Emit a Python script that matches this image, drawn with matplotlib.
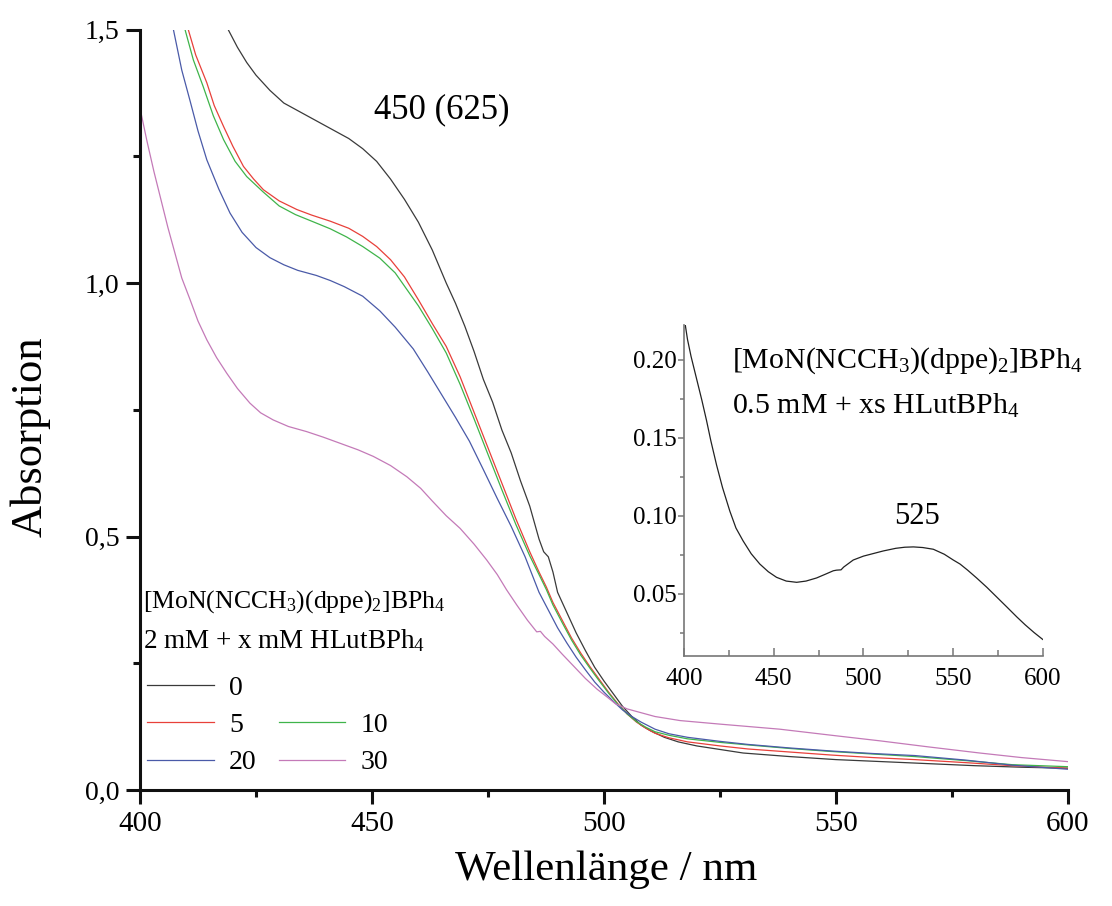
import matplotlib
matplotlib.use("Agg")
import matplotlib.pyplot as plt
from matplotlib.lines import Line2D
from matplotlib.ticker import MultipleLocator, FixedLocator, FixedFormatter

plt.rcParams['font.family'] = ['Liberation Serif', 'DejaVu Serif']
plt.rcParams['mathtext.fontset'] = 'custom'
plt.rcParams['mathtext.rm'] = 'Liberation Serif'
plt.rcParams['mathtext.it'] = 'Liberation Serif:italic'
plt.rcParams['mathtext.bf'] = 'Liberation Serif:bold'

# ---------------- data ----------------
wl_0 = [416, 419, 421, 423, 425, 428, 431, 435, 441, 445, 448, 451, 454, 457, 460, 463,
        466, 468, 470, 472, 474, 476, 478, 480, 482, 484, 486, 487, 488, 489, 490, 492,
        494, 496, 498, 500, 502, 504, 506, 508, 510, 513, 516, 520, 525, 530, 540, 550,
        560, 570, 580, 590, 600]
abs_0 = [1.60, 1.50, 1.465, 1.435, 1.41, 1.38, 1.355, 1.335, 1.305, 1.285, 1.265, 1.24,
         1.205, 1.165, 1.12, 1.065, 1.0, 0.96, 0.915, 0.865, 0.81, 0.765, 0.71, 0.665,
         0.61, 0.56, 0.495, 0.47, 0.46, 0.43, 0.39, 0.35, 0.31, 0.275, 0.242, 0.215, 0.19,
         0.165, 0.145, 0.128, 0.117, 0.104, 0.095, 0.087, 0.080, 0.073, 0.066, 0.060,
         0.056, 0.052, 0.048, 0.045, 0.043]

wl_5 = [407, 410.4, 412, 414.4, 416, 418, 420, 422.3, 424.5, 426.6, 430, 433.8, 437, 441,
        445, 448, 451, 454, 457, 460, 463, 466, 469, 472, 475, 478, 481, 484, 486, 487.6,
        489, 491, 493, 495, 497, 499, 501, 503, 505, 507, 509, 511, 514, 518, 525, 531,
        540, 549, 558, 567, 578, 588, 600]
abs_5 = [1.65, 1.50, 1.45, 1.395, 1.35, 1.309, 1.27, 1.23, 1.205, 1.184, 1.162, 1.145,
         1.134, 1.122, 1.108, 1.092, 1.072, 1.046, 1.012, 0.967, 0.92, 0.875, 0.815, 0.745,
         0.675, 0.605, 0.535, 0.47, 0.43, 0.40, 0.37, 0.335, 0.30, 0.27, 0.243, 0.218,
         0.193, 0.17, 0.15, 0.134, 0.122, 0.112, 0.103, 0.095, 0.087, 0.081, 0.075, 0.069,
         0.064, 0.060, 0.054, 0.048, 0.043]

wl_10 = [406, 409.7, 411.5, 413.6, 415.8, 418, 420.5, 423, 426.5, 430, 433.5, 437, 441,
         444.5, 448, 451.7, 455, 460, 463, 466, 469, 472, 475, 478, 481, 484, 486, 487.6,
         489, 491, 493, 495, 497, 499, 501, 503, 505, 507, 509, 511, 514, 518, 525, 531,
         540, 549, 558, 567, 578, 588, 600]
abs_10 = [1.65, 1.50, 1.44, 1.388, 1.33, 1.283, 1.24, 1.21, 1.18, 1.152, 1.135, 1.122,
          1.107, 1.091, 1.072, 1.049, 1.02, 0.955, 0.91, 0.862, 0.80, 0.732, 0.662, 0.592,
          0.524, 0.462, 0.425, 0.395, 0.365, 0.33, 0.296, 0.266, 0.24, 0.215, 0.191, 0.169,
          0.15, 0.135, 0.124, 0.115, 0.108, 0.101, 0.094, 0.089, 0.082, 0.076, 0.071,
          0.066, 0.058, 0.050, 0.046]

wl_20 = [404, 407.2, 409, 410.8, 412.5, 414.4, 417, 419.4, 422, 425, 428, 431, 434, 438,
         441, 444, 448, 451.7, 455, 458.9, 462, 465, 468, 471, 474, 477, 480, 483, 486,
         488, 490, 492, 494, 496, 498, 500, 502, 504, 506, 508, 511, 514, 518, 525, 531,
         540, 549, 558, 567, 578, 588, 600]
abs_20 = [1.70, 1.50, 1.42, 1.359, 1.30, 1.243, 1.185, 1.138, 1.10, 1.07, 1.05, 1.036,
          1.025, 1.015, 1.005, 0.993, 0.974, 0.945, 0.913, 0.87, 0.825, 0.78, 0.735,
          0.688, 0.632, 0.575, 0.52, 0.46, 0.39, 0.355, 0.32, 0.29, 0.262, 0.237, 0.213,
          0.193, 0.175, 0.158, 0.145, 0.134, 0.12, 0.111, 0.104, 0.096, 0.090, 0.083,
          0.077, 0.072, 0.068, 0.059, 0.049, 0.041]

wl_30 = [400, 401.5, 403, 404.5, 406, 407.5, 409, 410.8, 412.5, 414.4, 416.5, 418.7, 421,
         423.7, 426, 428.7, 432, 435.9, 439.5, 443.1, 447, 450.3, 454, 457.5, 460.5, 463,
         466, 469, 472, 474.7, 477, 479, 481.2, 483.5, 485.5, 486.3, 487.2, 489, 491,
         493.4, 496, 498.5, 500.6, 502.5, 505, 507.8, 511, 516.4, 525, 537.9, 550, 559.5,
         570, 581, 590, 600]
abs_30 = [1.345, 1.28, 1.22, 1.165, 1.11, 1.06, 1.01, 0.967, 0.925, 0.888, 0.853, 0.822,
          0.792, 0.763, 0.744, 0.73, 0.717, 0.707, 0.696, 0.684, 0.671, 0.658, 0.64,
          0.618, 0.595, 0.57, 0.541, 0.516, 0.485, 0.454, 0.425, 0.395, 0.365, 0.335,
          0.312, 0.313, 0.303, 0.288, 0.268, 0.245, 0.22, 0.199, 0.184, 0.170, 0.160, 0.153,
          0.145, 0.137, 0.13, 0.12, 0.107, 0.097, 0.085, 0.073, 0.064, 0.056]

series_labels = ['0', '5', '10', '20', '30']
series_colors = ['#3a3a3a', '#e8403a', '#3fb44a', '#4a5aa8', '#c47ab8']

inset_wl = [400.8, 402, 404, 407, 410, 412.6, 415, 418.2, 421.5, 425.6, 429, 433, 437.5,
            442.3, 447, 451.6, 457, 462.8, 468, 473.9, 479, 483.2, 485, 487.5, 489, 494.3,
            500, 505, 511, 518, 523, 527.8, 533, 538.9, 545, 550, 553.8, 558, 563, 568.7,
            574, 580, 585.4, 590, 595, 599.8]
inset_abs = [0.222, 0.213, 0.202, 0.188, 0.174, 0.161, 0.148, 0.1324, 0.118, 0.1028,
             0.092, 0.0837, 0.0755, 0.0689, 0.064, 0.0604, 0.058, 0.0572, 0.058, 0.0600,
             0.0625, 0.0646, 0.065, 0.0652, 0.067, 0.0715, 0.074, 0.0755, 0.0773, 0.079,
             0.0797, 0.0799, 0.0795, 0.0784, 0.0752, 0.0715, 0.0689, 0.065, 0.060, 0.0540,
             0.048, 0.0412, 0.0350, 0.030, 0.025, 0.0206]

x_ticks = [400, 450, 500, 550, 600]
y_ticks = [0.0, 0.5, 1.0, 1.5]
y_tick_labels = ['0,0', '0,5', '1,0', '1,5']
inset_y_ticks = [0.05, 0.10, 0.15, 0.20]
inset_y_tick_labels = ['0.05', '0.10', '0.15', '0.20']

# ---------------- figure ----------------
fig = plt.figure(figsize=(11.12, 9.06), dpi=100)
ax = fig.add_axes([0.1259, 0.128, 0.8345, 0.8394])

all_wl = [wl_0, wl_5, wl_10, wl_20, wl_30]
all_abs = [abs_0, abs_5, abs_10, abs_20, abs_30]
handles = []
for wl, a, lab, col in zip(all_wl, all_abs, series_labels, series_colors):
    h, = ax.plot(wl, a, color=col, lw=0.9, label=lab)
    handles.append(h)

ax.set_xlim(400, 600)
ax.set_ylim(0, 1.5)
for s in ['top', 'right']:
    ax.spines[s].set_visible(False)
for s in ['left', 'bottom']:
    ax.spines[s].set_linewidth(2.2)
    ax.spines[s].set_color('#111111')

ax.xaxis.set_major_locator(FixedLocator(x_ticks))
ax.xaxis.set_minor_locator(MultipleLocator(25))
ax.yaxis.set_major_locator(FixedLocator(y_ticks))
ax.yaxis.set_major_formatter(FixedFormatter(y_tick_labels))
ax.yaxis.set_minor_locator(MultipleLocator(0.25))
ax.tick_params(which='major', direction='out', length=10, width=2.2, labelsize=21,
               color='#111111', pad=5)
ax.tick_params(which='minor', direction='out', length=5, width=2.2, color='#111111')
ax.tick_params(axis='y', which='major', labelsize=20)

ax.set_xlabel('Wellenlänge / nm', fontsize=31)
ax.xaxis.set_label_coords(0.502, -0.080)
ax.set_ylabel('Absorption', fontsize=32)
ax.yaxis.set_label_coords(-0.096, 0.464)

ax.text(465.1, 1.342, '450 (625)', fontsize=25, ha='center', va='center')

ax.text(400.65, 0.359, r'[MoN(NCCH$_3$)(dppe)$_2$]BPh$_4$', fontsize=18.5, ha='left',
        va='baseline')
ax.text(400.65, 0.280, r'2 mM + x mM HLutBPh$_4$', fontsize=19.5, ha='left', va='baseline')

blank = Line2D([], [], color='none')
leg_handles = [handles[0], handles[1], handles[3], blank, handles[2], handles[4]]
leg_labels = ['0', '5', '20', '', '10', '30']
ax.legend(leg_handles, leg_labels, ncol=2, loc='upper left', bbox_to_anchor=(0.0075, 0.151),
          frameon=False, fontsize=20, borderpad=0, borderaxespad=0, handlelength=2.4,
          handletextpad=0.55, columnspacing=0.8, labelspacing=0.43)

# ---------------- inset ----------------
ins = fig.add_axes([0.615, 0.276, 0.323, 0.365])
ins.plot(inset_wl, inset_abs, color='#222222', lw=0.9)
ins.set_xlim(400, 600)
ins.set_ylim(0.01, 0.222)
for s in ['top', 'right']:
    ins.spines[s].set_visible(False)
for s in ['left', 'bottom']:
    ins.spines[s].set_linewidth(1.2)
    ins.spines[s].set_color('#777777')
ins.xaxis.set_major_locator(FixedLocator(x_ticks))
ins.xaxis.set_minor_locator(MultipleLocator(25))
ins.yaxis.set_major_locator(FixedLocator(inset_y_ticks))
ins.yaxis.set_major_formatter(FixedFormatter(inset_y_tick_labels))
ins.yaxis.set_minor_locator(MultipleLocator(0.025))
ins.tick_params(axis='x', which='major', direction='in', length=6, width=1.1,
                color='#777777', labelsize=18, pad=9)
ins.tick_params(axis='x', which='minor', direction='in', length=4, width=1.1, color='#777777')
ins.tick_params(axis='y', which='major', direction='out', length=4, width=1.1,
                color='#777777', labelsize=18, pad=1)
ins.tick_params(axis='y', which='minor', direction='out', length=3, width=1.1, color='#777777')

ins.text(426.7, 0.1951, r'[MoN(NCCH$_3$)(dppe)$_2$]BPh$_4$', fontsize=21.5, ha='left',
         va='baseline')
ins.text(426.7, 0.1652, r'0.5 mM + xs HLutBPh$_4$', fontsize=21.5, ha='left', va='baseline')
ins.text(529.8, 0.0997, '525', fontsize=22, ha='center', va='center')

fig.savefig('out.png', dpi=100)
